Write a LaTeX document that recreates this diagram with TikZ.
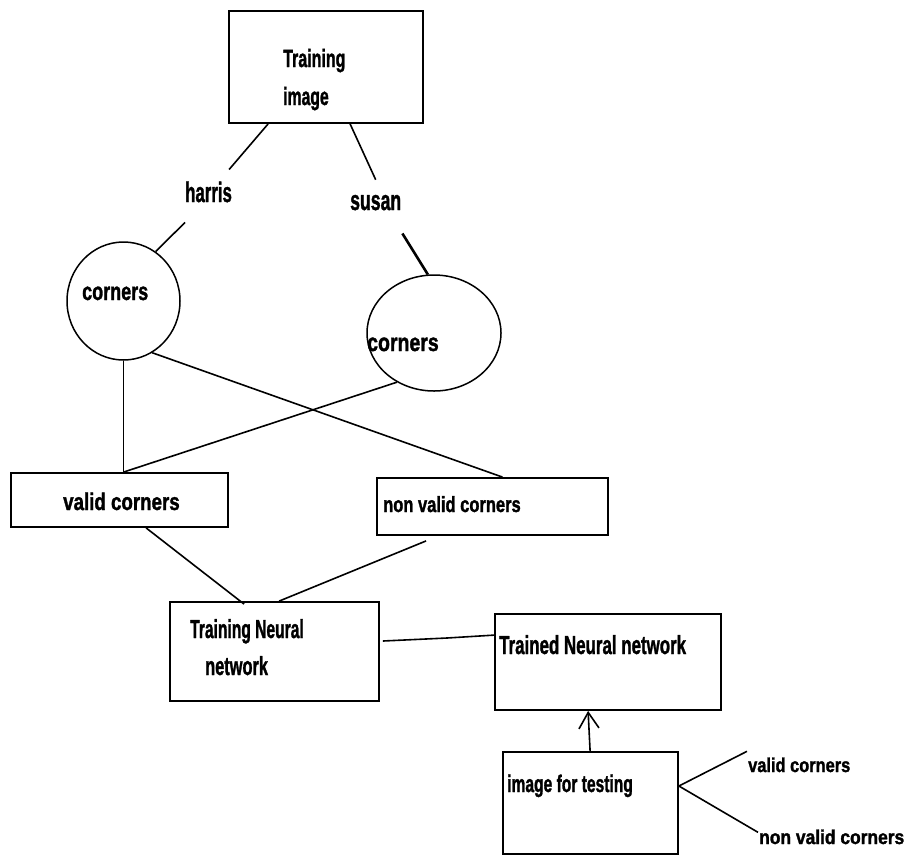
\documentclass[tikz,border=0pt]{standalone}
\usepackage{fontspec}
\usepackage{graphicx}
\setmainfont{Liberation Sans}[BoldFeatures={FakeBold=1.6}]
\usetikzlibrary{shapes.geometric,arrows.meta,calc}
\newcommand{\tx}[3]{\fontsize{#1}{#1}\selectfont\bfseries\scalebox{#2}[1]{#3}}
\begin{document}
\begin{tikzpicture}[x=1pt,y=-1pt,
  box/.style={draw, line width=1.8pt, rectangle, inner sep=0pt},
  oval/.style={draw, line width=1.5pt, ellipse, inner sep=0pt},
  lbl/.style={inner sep=0pt, anchor=base west},
  conn/.style={line width=1.6pt}]
\useasboundingbox (0,0) rectangle (917,855);

% boxes
\node[box, minimum width=194pt, minimum height=112pt] (timg) at (326,67) {};
\node[box, minimum width=217pt, minimum height=54pt] (valid) at (119.5,500) {};
\node[box, minimum width=231pt, minimum height=57pt] (nonvalid) at (492.5,506.5) {};
\node[box, minimum width=209pt, minimum height=99pt] (trainNN) at (274.5,651.5) {};
\node[box, minimum width=226pt, minimum height=96pt] (trained) at (608,662) {};
\node[box, minimum width=175pt, minimum height=102pt] (testing) at (590.5,803) {};

% circles
\node[oval, minimum width=113pt, minimum height=118pt] (c1) at (123.5,301) {};
\node[oval, minimum width=134pt, minimum height=116pt] (c2) at (434,333) {};

% texts
\node[lbl] (t1) at (283,67) {\tx{25}{0.64}{Training}};
\node[lbl] (t2) at (283,105) {\tx{25}{0.63}{image}};
\node[lbl] (harris) at (185,202) {\tx{28}{0.6}{harris}};
\node[lbl] (susan) at (350,210) {\tx{28}{0.63}{susan}};
\node[lbl] (c1t) at (82,300) {\tx{25}{0.72}{corners}};
\node[lbl] (c2t) at (367,351) {\tx{25}{0.78}{corners}};
\node[lbl] (vt) at (63,510) {\tx{24}{0.78}{valid corners}};
\node[lbl] (nvt) at (383,512) {\tx{22}{0.75}{non valid corners}};
\node[lbl] (tn1) at (190,638) {\tx{26}{0.6}{Training Neural}};
\node[lbl] (tn2) at (205,675) {\tx{26}{0.63}{network}};
\node[lbl] (trt) at (499,654) {\tx{26}{0.65}{Trained Neural network}};
\node[lbl] (tst) at (507,792) {\tx{24}{0.65}{image for testing}};
\node[lbl] (vlabel) at (748,772) {\tx{20}{0.82}{valid corners}};
\node[lbl] (nvlabel) at (759,844) {\tx{20}{0.87}{non valid corners}};

% connectors
\coordinate (vtop) at (c1.south |- valid.north);
\draw[conn] ($(timg.south west)+(40,0)$) -- ($(harris.north east)+(-3,-12)$);
\draw[conn] ($(harris.south west)+(0,20)$) -- (c1.57);
\draw[conn] ($(timg.south west)+(122,0)$) -- ($(susan.north)+(0,-15)$);
\draw[line width=2.6pt] ($(susan.south east)+(1,23)$) -- (c2.96);
\draw[conn] (c1.south) -- (vtop);
\draw[conn] (c1.-61) -- ($(nonvalid.north)+(10,0)$);
\draw[conn] (c2.233) -- (vtop);
\draw[conn] ($(valid.south west)+(136,0)$) -- ($(trainNN.north west)+(75,3)$);
\draw[conn] ($(nonvalid.south west)+(50,5)$) -- ($(trainNN.north west)+(110,0)$);
\draw[conn] ($(trainNN.east)+(3,-10.5)$) -- (447,638) -- ($(trained.north west)+(0,22)$);
\draw[conn,-{Straight Barb[length=16pt,width=20pt]}] ($(testing.north west)+(88,0)$) -- ($(trained.south west)+(94,0)$);
\draw[conn] ($(testing.east)+(0,-17)$) -- ($(vlabel.north west)+(-1,-6)$);
\draw[conn] ($(testing.east)+(0,-17)$) -- ($(nvlabel.north west)+(-1,3)$);
\end{tikzpicture}
\end{document}
